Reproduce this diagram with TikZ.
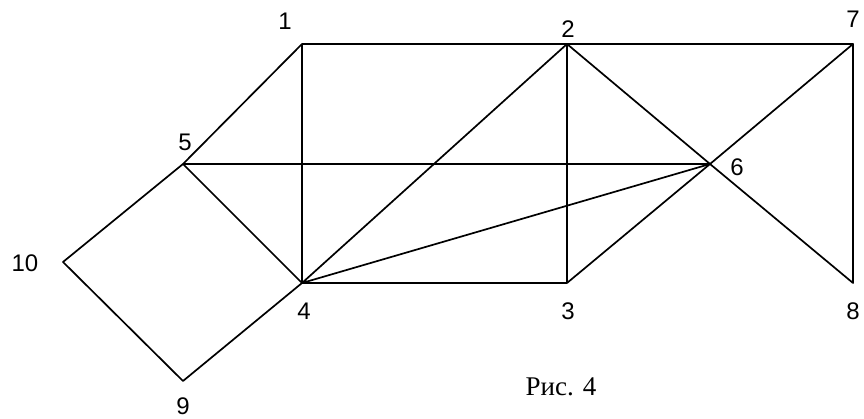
\documentclass[tikz,border=0pt]{standalone}
\usepackage{fontspec}
\setmainfont{Liberation Serif}
\newfontfamily\numfont{Liberation Sans}
\usetikzlibrary{positioning}

\begin{document}
\begin{tikzpicture}[
  x=1pt, y=-1pt,
  edge/.style={draw=black, line width=1.7pt, line cap=round, line join=round},
  vlabel/.style={font=\numfont\fontsize{24}{28}\selectfont, inner sep=0pt},
  caption/.style={font=\fontsize{27}{32}\selectfont, inner sep=0pt}
]
  \useasboundingbox (0,0) rectangle (864,419);
  % vertices
  \coordinate (v1) at (302,44);
  \coordinate (v2) at (567,44);
  \coordinate (v3) at (567,283);
  \coordinate (v4) at (302,283);
  \coordinate (v5) at (183,164);
  \coordinate (v6) at (710,164);
  \coordinate (v7) at (853,44);
  \coordinate (v8) at (853,283);
  \coordinate (v9) at (183,381);
  \coordinate (v10) at (63,262);
  % edges
  \draw[edge] (v1) -- (v2) -- (v7) -- (v8) -- (v6) -- (v2) -- (v3) -- (v4) -- (v1) -- (v5) -- (v6) -- (v3);
  \draw[edge] (v7) -- (v6) -- (v4) -- (v2);
  \draw[edge] (v5) -- (v4) -- (v9) -- (v10) -- (v5);
  % labels
  \node[vlabel] (l1) at (285,21) {1};
  \node[vlabel] (l2) at (568,29) {2};
  \node[vlabel] (l3) at (568,311) {3};
  \node[vlabel] (l4) at (304,311) {4};
  \node[vlabel] (l5) at (185,142) {5};
  \node[vlabel] (l6) at (737,167) {6};
  \node[vlabel] (l7) at (853,19) {7};
  \node[vlabel] (l8) at (853,311) {8};
  \node[vlabel] (l9) at (183,406) {9};
  \node[vlabel] (l10) at (25,263) {10};
  \node[caption] (fig) at (561,387) {Рис. 4};
\end{tikzpicture}
\end{document}
